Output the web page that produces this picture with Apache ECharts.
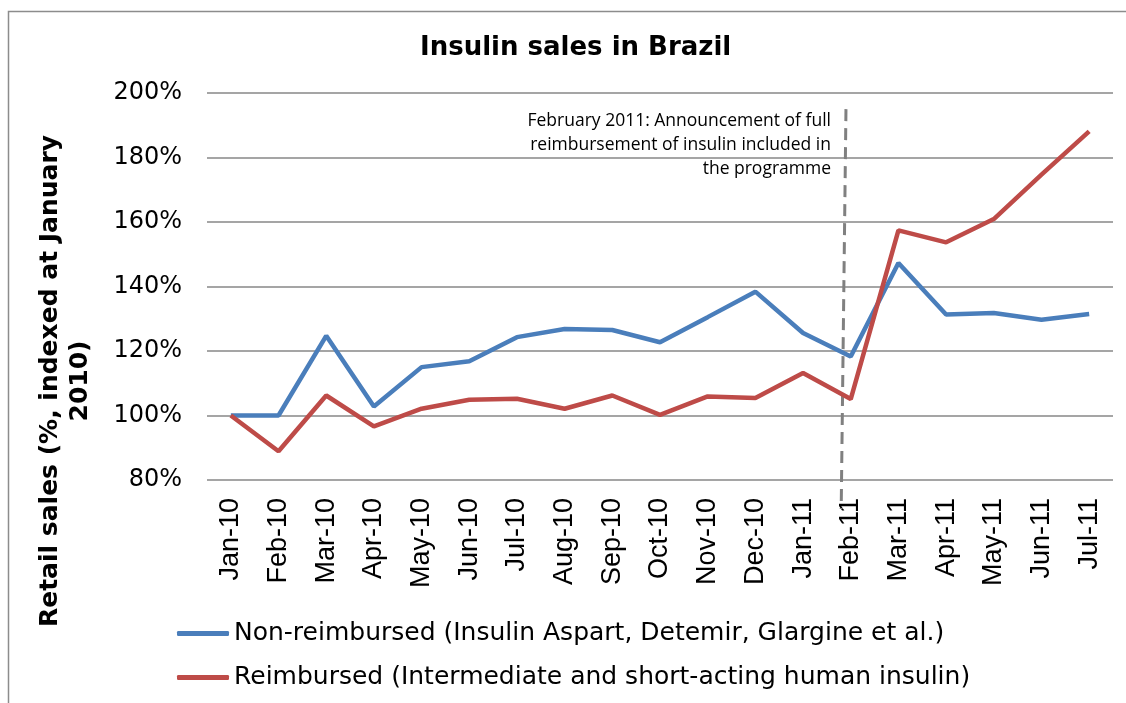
<!DOCTYPE html>
<html>
<head>
<meta charset="utf-8">
<script src="https://cdn.jsdelivr.net/npm/echarts@6/dist/echarts.min.js"></script>
<style>html,body{margin:0;padding:0;background:#fff}#c{width:1126px;height:703px}</style>
</head>
<body>
<div id="c"></div>
<script>
const months = ['Jan-10','Feb-10','Mar-10','Apr-10','May-10','Jun-10','Jul-10','Aug-10','Sep-10','Oct-10','Nov-10','Dec-10','Jan-11','Feb-11','Mar-11','Apr-11','May-11','Jun-11','Jul-11'];
const nonReimbursed = [100, 100, 124.7, 102.8, 115, 116.8, 124.3, 126.8, 126.5, 122.7, 130.5, 138.4, 125.6, 118.3, 147.3, 131.3, 131.8, 129.7, 131.5];
const reimbursed = [100, 88.9, 106.2, 96.6, 102.1, 104.9, 105.2, 102.1, 106.2, 100.2, 105.9, 105.4, 113.2, 105.1, 157.4, 153.7, 160.9, 174.7, 188.1];
const announcementLine = [[12.9, 195], [12.8, 71]];
const seriesNames = ['Non-reimbursed (Insulin Aspart, Detemir, Glargine et al.)', 'Reimbursed (Intermediate and short-acting human insulin)'];
const annotation = 'February 2011: Announcement of full\nreimbursement of insulin included in\nthe programme';
const yAxisTitle = 'Retail sales (%, indexed at January\n2010)';

const chart = echarts.init(document.getElementById('c'));
chart.setOption({
  animation: false,
  backgroundColor: '#fff',
  title: {
    text: 'Insulin sales in Brazil',
    left: 415, top: 30,
    textStyle: {fontFamily: 'DejaVu Sans', fontWeight: 'bold', fontSize: 26, color: '#000'}
  },
  grid: {left: 207, right: 13, top: 93, bottom: 223},
  legend: {
    orient: 'vertical', left: 177, top: 621, padding: 0,
    icon: 'roundRect',
    itemWidth: 52, itemHeight: 5, itemGap: 19,
    data: seriesNames,
    textStyle: {fontFamily: 'DejaVu Sans', fontSize: 25, color: '#000', lineHeight: 25}
  },
  xAxis: [{
    type: 'category', data: months, boundaryGap: true,
    axisLine: {show: false}, axisTick: {show: false},
    axisLabel: {rotate: 90, margin: 18, fontFamily: 'Liberation Sans', fontSize: 27, color: '#000', interval: 0}
  }, {
    type: 'value', min: -0.5, max: 18.5, show: false
  }],
  yAxis: {
    type: 'value', min: 80, max: 200, interval: 20,
    axisLine: {show: false}, axisTick: {show: false},
    axisLabel: {formatter: '{value}%', margin: 25, fontFamily: 'DejaVu Sans', fontSize: 24, color: '#000'},
    splitLine: {lineStyle: {color: '#878787', width: 1.5}}
  },
  series: [{
    name: seriesNames[0], type: 'line', data: nonReimbursed, symbol: 'none',
    lineStyle: {color: '#4A7EBB', width: 4.5}, itemStyle: {color: '#4A7EBB'}
  }, {
    name: seriesNames[1], type: 'line', data: reimbursed, symbol: 'none',
    lineStyle: {color: '#BE4B48', width: 4.5}, itemStyle: {color: '#BE4B48'}
  }, {
    name: 'announcement', type: 'line', xAxisIndex: 1, data: announcementLine, symbol: 'none', clip: false,
    lineStyle: {color: '#808080', width: 3, type: [12, 7]}, silent: true, z: 1
  }],
  graphic: [{
    type: 'rect', shape: {x: 8.5, y: 11.5, width: 1300, height: 900},
    style: {fill: 'none', stroke: '#8c8c8c', lineWidth: 1.5}, silent: true
  }, {
    type: 'text', x: 831, y: 109,
    style: {text: annotation, fontFamily: 'Open Sans', fontSize: 17.5, lineHeight: 24, fill: '#000', align: 'right', verticalAlign: 'top'}
  }, {
    type: 'text', x: 65, y: 381, rotation: Math.PI / 2,
    style: {text: yAxisTitle, fontFamily: 'DejaVu Sans', fontWeight: 'bold', fontSize: 25, lineHeight: 30, fill: '#000', align: 'center', verticalAlign: 'middle'}
  }]
});
</script>
</body>
</html>
